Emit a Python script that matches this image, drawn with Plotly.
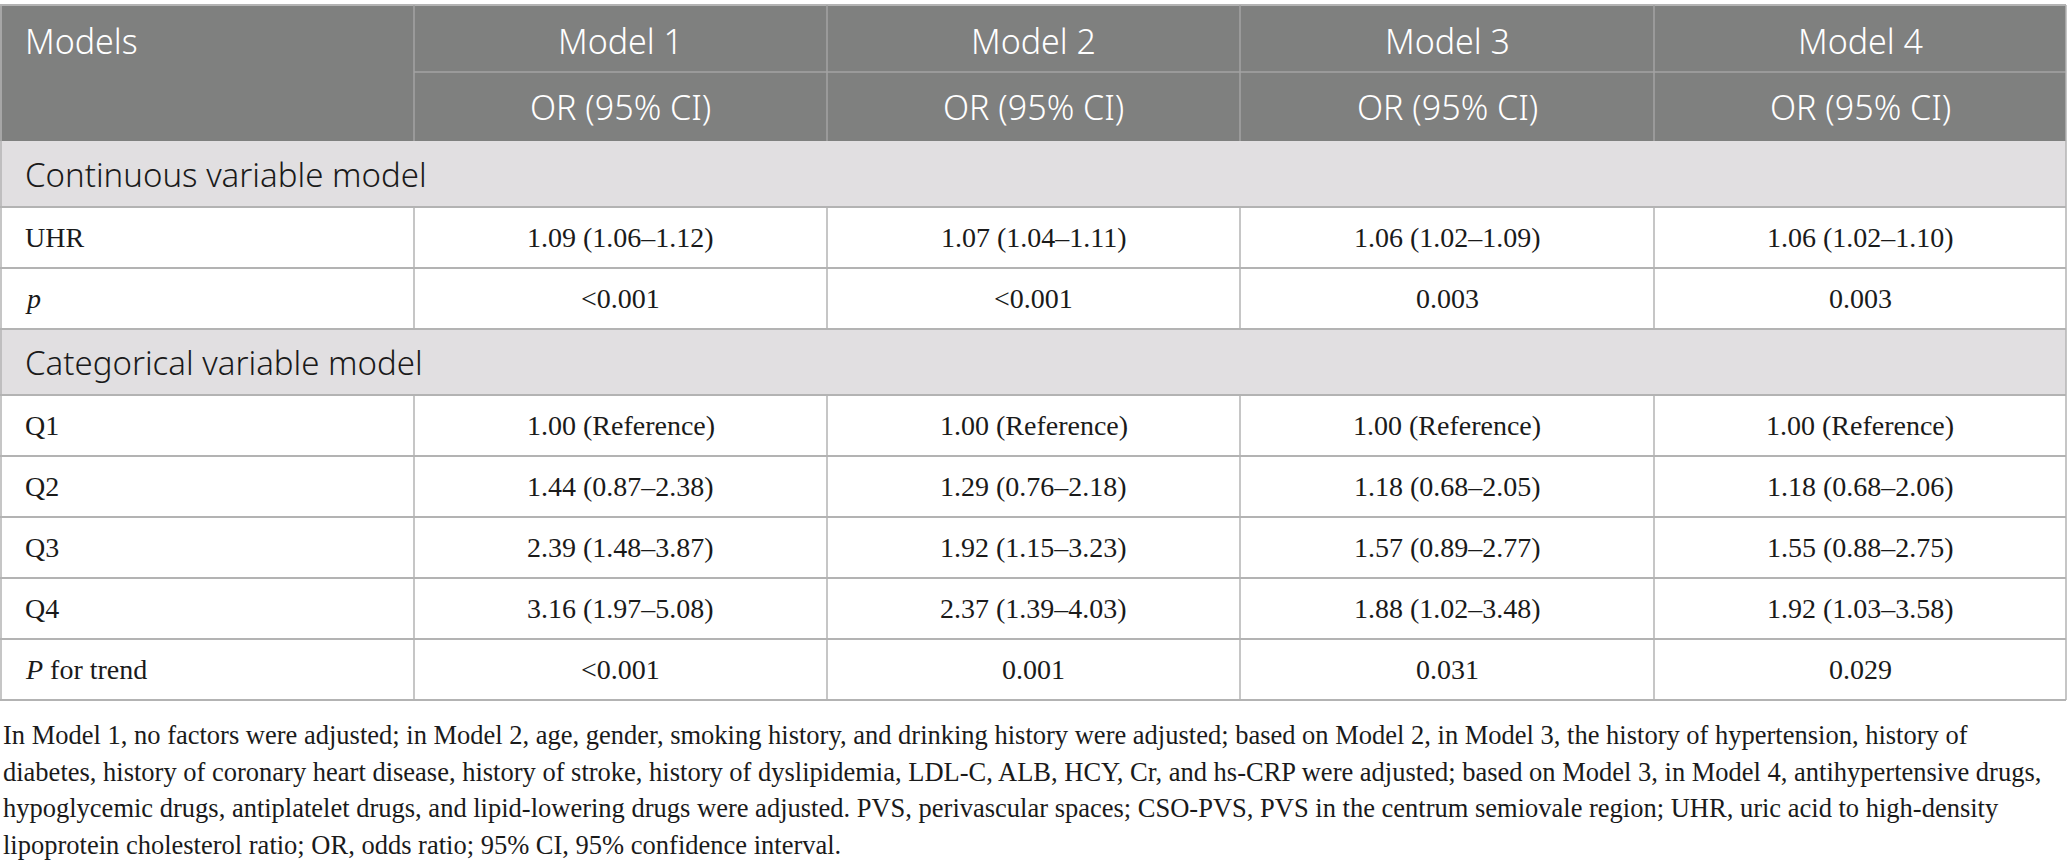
import plotly.graph_objects as go

# ---- table content ----
models = ["Model 1", "Model 2", "Model 3", "Model 4"]
ci_label = "OR (95% CI)"
first_header = "Models"

continuous_title = "Continuous variable model"
continuous_labels = ["UHR", "<i>p</i>"]
continuous_values = [
    ["1.09 (1.06–1.12)", "1.07 (1.04–1.11)", "1.06 (1.02–1.09)", "1.06 (1.02–1.10)"],
    ["&lt;0.001", "&lt;0.001", "0.003", "0.003"],
]

categorical_title = "Categorical variable model"
categorical_labels = ["Q1", "Q2", "Q3", "Q4", "<i>P</i> for trend"]
categorical_values = [
    ["1.00 (Reference)", "1.00 (Reference)", "1.00 (Reference)", "1.00 (Reference)"],
    ["1.44 (0.87–2.38)", "1.29 (0.76–2.18)", "1.18 (0.68–2.05)", "1.18 (0.68–2.06)"],
    ["2.39 (1.48–3.87)", "1.92 (1.15–3.23)", "1.57 (0.89–2.77)", "1.55 (0.88–2.75)"],
    ["3.16 (1.97–5.08)", "2.37 (1.39–4.03)", "1.88 (1.02–3.48)", "1.92 (1.03–3.58)"],
    ["&lt;0.001", "0.001", "0.031", "0.029"],
]

footnote_lines = [
    "In Model 1, no factors were adjusted; in Model 2, age, gender, smoking history, and drinking history were adjusted; based on Model 2, in Model 3, the history of hypertension, history of",
    "diabetes, history of coronary heart disease, history of stroke, history of dyslipidemia, LDL-C, ALB, HCY, Cr, and hs-CRP were adjusted; based on Model 3, in Model 4, antihypertensive drugs,",
    "hypoglycemic drugs, antiplatelet drugs, and lipid-lowering drugs were adjusted. PVS, perivascular spaces; CSO-PVS, PVS in the centrum semiovale region; UHR, uric acid to high-density",
    "lipoprotein cholesterol ratio; OR, odds ratio; 95% CI, 95% confidence interval.",
]

# ---- geometry / style ----
W, H = 2067, 866
col_edges = [0, 414, 827, 1240, 1654, 2066]
top = 5
h_head1, h_head2, h_section, h_row = 67, 69, 66, 61
pad_left = 23

HEAD_BG = "#7f807f"
SECTION_BG = "#e1dfe1"
LINE = "#b3b3b3"
HEAD_LINE = "#a3a3a3"
SANS = "Noto Sans"
SERIF = "Liberation Serif"

shapes = []
annotations = []


def rect(x0, x1, y0, y1, color):
    shapes.append(dict(type="rect", x0=x0, x1=x1, y0=y0, y1=y1,
                       fillcolor=color, line=dict(width=0), layer="below"))


def hline(x0, x1, y, color=LINE, w=2):
    shapes.append(dict(type="line", x0=x0, x1=x1, y0=y, y1=y,
                       line=dict(color=color, width=w)))


def vline(x, y0, y1, color=LINE, w=1.5):
    shapes.append(dict(type="line", x0=x, x1=x, y0=y0, y1=y1,
                       line=dict(color=color, width=w)))


def text(x, y, s, font, size, color="#1a1a1a", anchor="center", weight="normal"):
    annotations.append(dict(x=x, y=y, text=s, showarrow=False, xanchor=anchor,
                            yanchor="middle",
                            font=dict(family=font, size=size, color=color, weight=weight)))


centers = [(col_edges[i] + col_edges[i + 1]) / 2 for i in range(1, len(col_edges) - 1)]

# header
y = top
y_mid = y + h_head1
y_end = y_mid + h_head2
rect(col_edges[0], col_edges[-1], y, y_end, HEAD_BG)
hline(col_edges[0], col_edges[-1], y, LINE, 2)
hline(col_edges[1], col_edges[-1], y_mid, HEAD_LINE, 1.5)
for x in col_edges[1:-1]:
    vline(x, y, y_end, HEAD_LINE)
text(pad_left, y + h_head1 / 2 + 2, first_header, SANS, 34, "white", "left", 300)
for cx, m in zip(centers, models):
    text(cx, y + h_head1 / 2 + 2, m, SANS, 34, "white", weight=300)
    text(cx, y_mid + h_head2 / 2, ci_label, SANS, 34, "white", weight=300)
y = y_end


def block(title, labels, values, y):
    rect(col_edges[0], col_edges[-1], y, y + h_section, SECTION_BG)
    text(pad_left, y + h_section / 2, title, SANS, 33, "#1a1a1a", "left", 300)
    y += h_section
    hline(col_edges[0], col_edges[-1], y)
    for lab, vals in zip(labels, values):
        text(pad_left, y + h_row / 2, lab, SERIF, 28, "#1a1a1a", "left")
        for cx, v in zip(centers, vals):
            text(cx, y + h_row / 2, v, SERIF, 28)
        for x in col_edges[1:-1]:
            vline(x, y, y + h_row)
        y += h_row
        hline(col_edges[0], col_edges[-1], y)
    return y


y = block(continuous_title, continuous_labels, continuous_values, y)
y = block(categorical_title, categorical_labels, categorical_values, y)

# outer left / right borders
vline(col_edges[0] + 1, top, y)
vline(col_edges[-1], top, y)

# footnote
fy = y + 35
for line in footnote_lines:
    text(1, fy, line, SERIF, 26.5, "#1a1a1a", "left")
    fy += 36.5

fig = go.Figure()
fig.update_layout(
    width=W, height=H,
    margin=dict(l=0, r=0, t=0, b=0),
    paper_bgcolor="white", plot_bgcolor="white",
    xaxis=dict(range=[0, W], visible=False, fixedrange=True),
    yaxis=dict(range=[H, 0], visible=False, fixedrange=True),
    shapes=shapes, annotations=annotations,
    showlegend=False,
)

fig.write_html("out.html", config={"displayModeBar": False},
               post_script="document.body.style.margin='0';")
